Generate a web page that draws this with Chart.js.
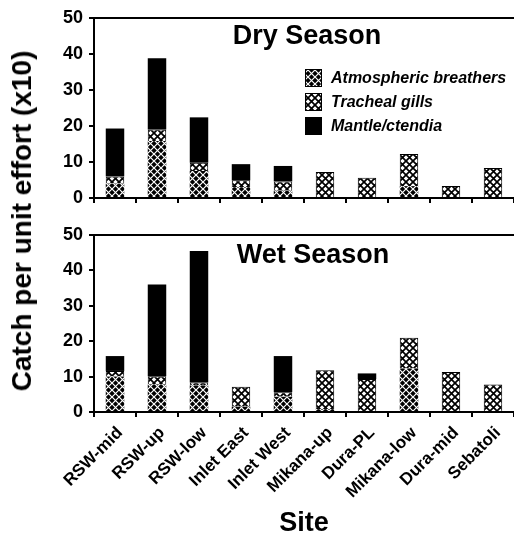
<!DOCTYPE html>
<html><head><meta charset="utf-8">
<script src="https://cdn.jsdelivr.net/npm/chart.js@4.4.0/dist/chart.umd.min.js"></script>
<style>
html,body{margin:0;padding:0;background:#fff;overflow:hidden;width:514px;height:540px;}
canvas{position:absolute;left:0;}
#c1{top:0;}
#c2{top:215px;}
#ytitle{position:absolute;left:22px;top:221px;transform:translate(-50%,-50%) rotate(-90deg);font:bold 28px "Liberation Sans",Arial,sans-serif;white-space:nowrap;color:#000;}
</style></head>
<body>
<canvas id="c1" width="514" height="215" style="width:514px;height:215px"></canvas>
<canvas id="c2" width="514" height="325" style="width:514px;height:325px"></canvas>
<div id="ytitle">Catch per unit effort (x10)</div>
<script>
const sites = ['RSW-mid','RSW-up','RSW-low','Inlet East','Inlet West','Mikana-up','Dura-PL','Mikana-low','Dura-mid','Sebatoli'];
const seriesNames = ['Atmospheric breathers','Tracheal gills','Mantle/ctendia'];
const yTicks = [0,10,20,30,40,50];
const dryTitle = 'Dry Season';
const wetTitle = 'Wet Season';
const xTitle = 'Site';

const dryAtmospheric = [4.0, 15.8, 7.5, 3.0, 2.0, 0, 0, 3.3, 0, 0];
const dryTracheal    = [2.0, 3.2, 2.3, 1.9, 2.6, 7.2, 5.6, 8.9, 3.3, 8.3];
const dryMantle      = [13.3, 19.8, 12.6, 4.5, 4.3, 0, 0, 0, 0, 0];

const wetAtmospheric = [10.0, 7.8, 7.5, 1.5, 4.3, 0.8, 0, 12.3, 0, 0];
const wetTracheal    = [1.6, 2.3, 0.8, 5.6, 1.3, 11.0, 9.3, 8.7, 11.3, 7.8];
const wetMantle      = [4.2, 25.9, 37.2, 0, 10.2, 0, 1.6, 0, 0, 0];

function hatch(bg, fg, lw){
  const s = 7;
  const c = document.createElement('canvas'); c.width = s; c.height = s;
  const g = c.getContext('2d');
  g.fillStyle = bg; g.fillRect(0,0,s,s);
  g.strokeStyle = fg; g.lineWidth = lw;
  g.beginPath();
  g.moveTo(-1,-1); g.lineTo(s+1,s+1);
  g.moveTo(s+1,-1); g.lineTo(-1,s+1);
  g.stroke();
  return g.createPattern(c,'repeat');
}
const patAtm = hatch('#000','#fff',1.2);
const patTra = hatch('#fff','#000',1.7);
const fills = [patAtm, patTra, '#000'];

const FONT = '"Liberation Sans", Arial, sans-serif';
Chart.defaults.font.family = FONT;
Chart.defaults.color = '#000';

const frame = {
  id:'frame',
  afterDraw(chart, args, opts){
    const {ctx, chartArea:a} = chart;
    ctx.save();
    ctx.strokeStyle = '#000'; ctx.lineWidth = 2;
    ctx.beginPath(); ctx.moveTo(a.left, a.top); ctx.lineTo(a.right, a.top); ctx.stroke();
    ctx.font = 'bold 27px ' + FONT;
    ctx.textAlign = 'center'; ctx.textBaseline = 'alphabetic';
    ctx.fillText(opts.text, opts.x, opts.y);
    if (opts.legend){
      const rows = [78, 102, 126];
      chart.data.datasets.forEach((ds,i)=>{
        const cy = rows[i];
        ctx.fillStyle = ds.backgroundColor;
        ctx.fillRect(305, cy-9, 17, 18);
        ctx.strokeStyle = '#000'; ctx.lineWidth = 1;
        ctx.strokeRect(305.5, cy-8.5, 16, 17);
        ctx.fillStyle = '#000';
        ctx.font = 'italic bold 16px ' + FONT;
        ctx.textAlign = 'left'; ctx.textBaseline = 'middle';
        ctx.fillText(ds.label, 331, cy+1);
      });
    }
    ctx.restore();
  }
};

function makeDatasets(a,t,m){
  return [a,t,m].map((d,i)=>({
    label: seriesNames[i], data: d, backgroundColor: fills[i],
    borderColor:'#000', borderWidth: i===1 ? 1 : 0,
    barPercentage: 0.44, categoryPercentage: 1.0
  }));
}

function makeChart(id, a, t, m, o){
  return new Chart(document.getElementById(id), {
    type:'bar',
    data:{ labels: sites, datasets: makeDatasets(a,t,m) },
    plugins:[frame],
    options:{
      responsive:false, animation:false,
      layout:{ padding:{ top:o.padTop, left:0, right:0, bottom:0 } },
      plugins:{ legend:{display:false}, tooltip:{enabled:false}, frame:{ text:o.title, x:o.tx, y:o.ty, legend:o.legend } },
      scales:{
        x:{
          stacked:true,
          grid:{ display:true, drawOnChartArea:false, drawTicks:true, tickLength:5, color:'#000', lineWidth:2, offset:true },
          border:{ display:true, color:'#000', width:2 },
          ticks:{ display:o.showX, font:{ size:17, weight:'bold' }, maxRotation:45, minRotation:45, padding:6, labelOffset:5, autoSkip:false },
          title:{ display:o.showX, text:xTitle, font:{ size:27, weight:'bold', lineHeight:1.2 }, padding:{top:0,bottom:0} },
          afterFit(s){ s.height = o.xHeight; }
        },
        y:{
          stacked:true, min:0, max:50,
          afterBuildTicks(s){ s.ticks = yTicks.map(v=>({value:v})); },
          grid:{ display:true, drawOnChartArea:false, drawTicks:true, tickLength:5, color:'#000', lineWidth:2 },
          border:{ display:true, color:'#000', width:2 },
          ticks:{ font:{ size:18, weight:'bold' }, padding:6 },
          afterFit(s){ s.width = 94; }
        }
      }
    }
  });
}

makeChart('c1', dryAtmospheric, dryTracheal, dryMantle, { padTop:18, xHeight:17, showX:false, title:dryTitle, tx:307, ty:44, legend:true });
makeChart('c2', wetAtmospheric, wetTracheal, wetMantle, { padTop:20, xHeight:128, showX:true, title:wetTitle, tx:313, ty:48, legend:false });
</script>
</body></html>
